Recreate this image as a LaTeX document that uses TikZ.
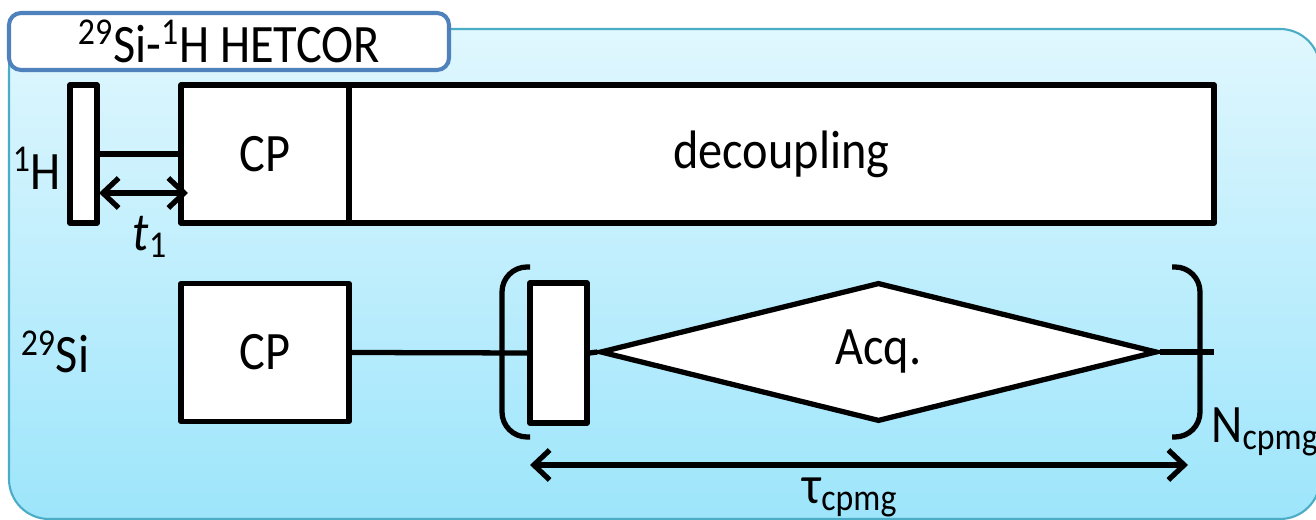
\documentclass[tikz,border=0pt]{standalone}
\usepackage{fontspec}
\setmainfont{Carlito}
\usetikzlibrary{arrows.meta,shapes.geometric}
\definecolor{panelTop}{HTML}{E0F7FE}
\definecolor{panelBot}{HTML}{9DE5FB}
\definecolor{panelLine}{HTML}{4BACC6}
\definecolor{titleLine}{HTML}{4F81BD}
% labels are set slightly taller than wide
\newcommand{\lbl}[1]{\scalebox{1}[1.12]{#1}}
\begin{document}
\begin{tikzpicture}[
    every node/.style={font=\fontsize{27.5}{32}\selectfont},
    block/.style={draw, fill=white, line width=3pt, line join=round, inner sep=0pt, minimum height=2.76cm},
    bracket/.style={line width=3pt, rounded corners=0.5cm},
    timing/.style={{Straight Barb[length=9pt,width=17pt]}-{Straight Barb[length=9pt,width=17pt]}, line width=3pt}
]
    \useasboundingbox (0,0) rectangle (26.32,10.4);
    % background panel and title
    \begin{scope}
        \clip (0,0) rectangle (26.32,10.4);
        \path[draw=panelLine, line width=1.2pt, top color=panelTop, bottom color=panelBot, rounded corners=0.8cm] (0.18,0.02) rectangle (26.4,9.82);
    \end{scope}
    \node[draw=titleLine, line width=2.3pt, fill=white, rounded corners=0.24cm, minimum width=8.8cm, minimum height=1.14cm, inner sep=0pt] (title) at (4.58,9.57) {\lbl{\textsuperscript{29}Si-\textsuperscript{1}H HETCOR}};

    % 1H channel
    \node (hLabel) at (0.74,7.04) {\lbl{\textsuperscript{1}H}};
    \node[block, minimum width=0.54cm] (hPulse) at (1.67,7.32) {};
    \node[block, minimum width=3.36cm] (hCP) at (5.3,7.32) {\lbl{CP}};
    \node[block, minimum width=17.3cm] (dec) at (15.63,7.32) {\lbl{decoupling}};
    \draw[line width=3pt] (hPulse.east) -- (hPulse.east -| hCP.west);
    \coordinate (tStart) at (1.98,6.54);
    \coordinate (tEnd) at (3.76,6.54);
    \draw[timing] (tStart) -- (tEnd);
    \node (tLabel) at (3.0,5.66) {\lbl{\textit{t}\textsubscript{1}}};

    % 29Si channel
    \node (siLabel) at (1.1,3.36) {\lbl{\textsuperscript{29}Si}};
    \node[block, minimum width=3.36cm] (siCP) at (5.3,3.35) {\lbl{CP}};
    \node[block, minimum width=1.14cm, minimum height=2.8cm] (siPulse) at (11.17,3.34) {};
    \node[draw, fill=white, line width=3pt, shape=diamond, inner sep=0pt, minimum width=11.14cm, minimum height=2.78cm] (acq) at (17.57,3.36) {\lbl{Acq.}};
    \coordinate (siEnd) at (24.28,3.36);
    \draw[line width=3pt] (siCP.east) -- (siPulse.west);
    \draw[line width=3pt] (siPulse.east) -- (acq.west);
    \draw[line width=3pt] (acq.east) -- (siEnd);

    % echo loop
    \draw[bracket] (10.6,5.06) -- (10.04,5.06) -- (10.04,1.66) -- (10.6,1.66);
    \draw[bracket] (23.44,5.06) -- (24.0,5.06) -- (24.0,1.66) -- (23.44,1.66);
    \node (nLabel) at (25.3,1.76) {\lbl{N\textsubscript{cpmg}}};
    \coordinate (tauStart) at (10.6,1.1);
    \coordinate (tauEnd) at (23.76,1.1);
    \draw[timing] (tauStart) -- (tauEnd);
    \node (tauLabel) at (17.0,0.45) {\lbl{τ\textsubscript{cpmg}}};
\end{tikzpicture}
\end{document}
